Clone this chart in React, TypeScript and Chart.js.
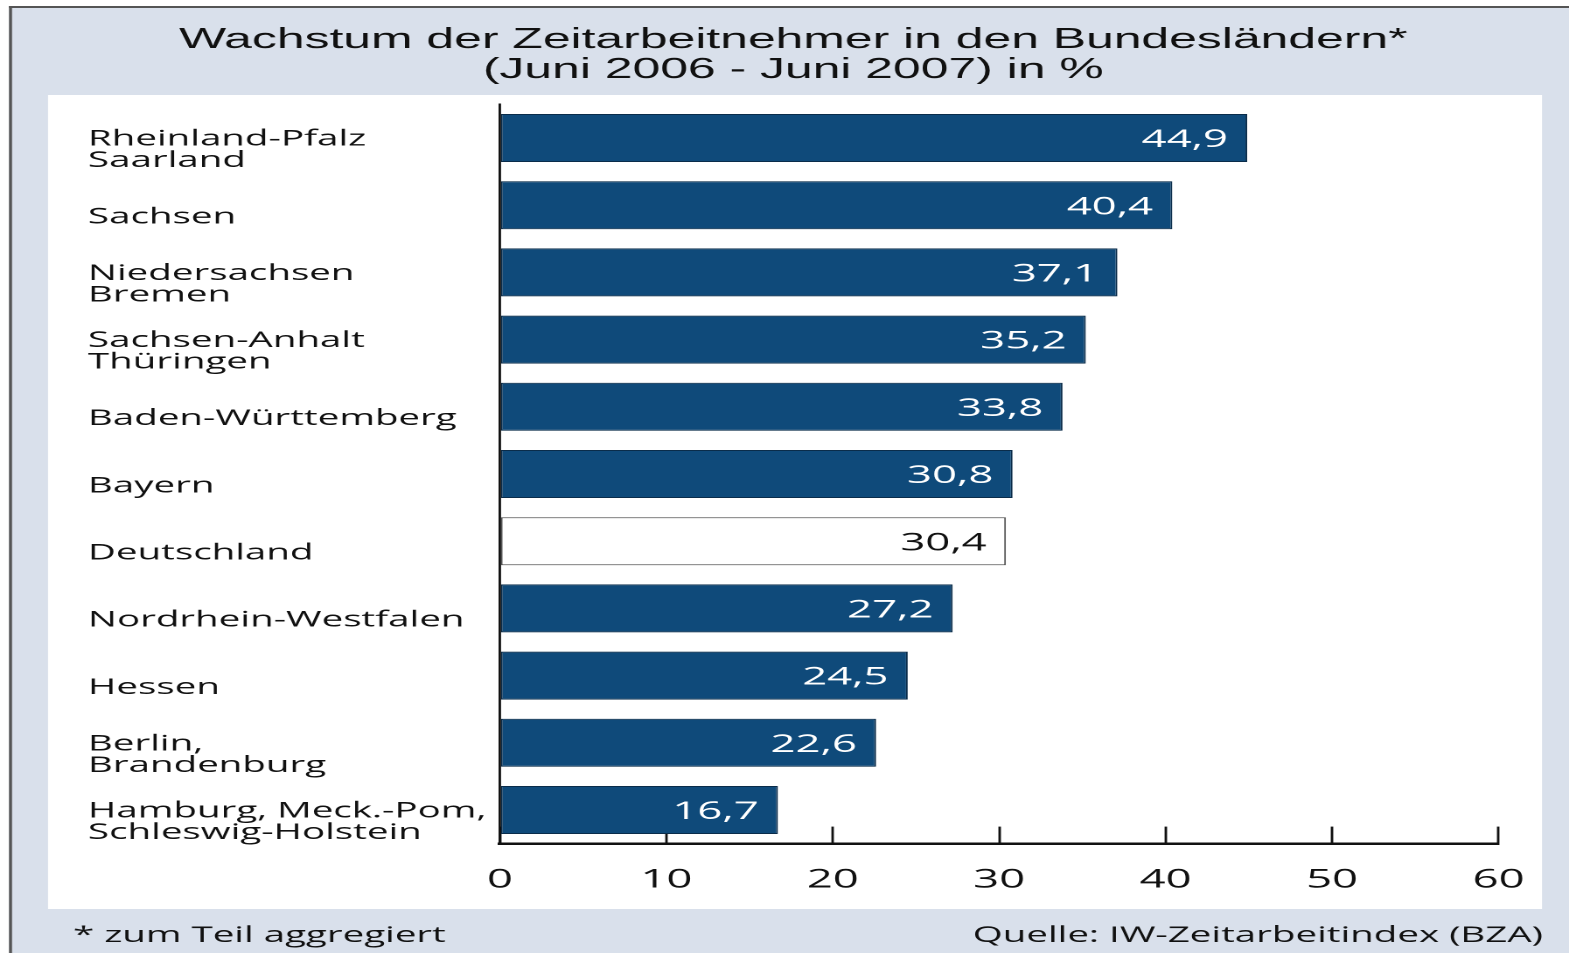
import React, { useEffect, useRef } from "react";
import { Chart, registerables } from "chart.js";

Chart.register(...registerables);

// ---- data ----
const categories: string[] = [
  "Rheinland-Pfalz\nSaarland",
  "Sachsen",
  "Niedersachsen\nBremen",
  "Sachsen-Anhalt\nThüringen",
  "Baden-Württemberg",
  "Bayern",
  "Deutschland",
  "Nordrhein-Westfalen",
  "Hessen",
  "Berlin,\nBrandenburg",
  "Hamburg, Meck.-Pom,\nSchleswig-Holstein",
];
const values: number[] = [44.9, 40.4, 37.1, 35.2, 33.8, 30.8, 30.4, 27.2, 24.5, 22.6, 16.7];
const xTicks: number[] = [0, 10, 20, 30, 40, 50, 60];
const titleLines: string[] = [
  "Wachstum der Zeitarbeitnehmer in den Bundesländern*",
  "(Juni 2006 - Juni 2007) in %",
];
const footnote = "* zum Teil aggregiert";
const source = "Quelle: IW-Zeitarbeitindex (BZA)";
const highlightCategory = "Deutschland";

// ---- geometry / styles ----
const PAGE_W = 1569;
const H = 953;
const W = 897; // internal chart width, stretched horizontally to PAGE_W
const S = PAGE_W / W;
const px = (x: number) => x / S; // page x -> chart x

const BAR = "#0f4a7a";
const BAR_EDGE = "#0a2c4a";
const INK = "#111111";
const FRAME_BG = "#d9e0eb";
const FONT = "'Open Sans', 'DejaVu Sans', sans-serif";

const isHighlight = (i: number) => categories[i] === highlightCategory;
const fmt = (v: number) => v.toFixed(1).replace(".", ",");

const backgroundPlugin = {
  id: "frameBackground",
  beforeDraw(chart: any) {
    const { ctx, width, height } = chart;
    ctx.save();
    ctx.fillStyle = "#ffffff";
    ctx.fillRect(0, 0, width, height);
    ctx.fillStyle = FRAME_BG;
    ctx.fillRect(px(9), 6, width, height);
    ctx.fillStyle = "#555555";
    ctx.fillRect(px(9), 6, width, 2);
    ctx.fillRect(px(9), 6, px(3), height);
    ctx.fillStyle = "#ffffff";
    ctx.fillRect(px(48), 95, px(1542 - 48), 909 - 95);
    ctx.restore();
  },
};

const valueLabelPlugin = {
  id: "valueLabels",
  afterDatasetsDraw(chart: any) {
    const { ctx } = chart;
    const meta = chart.getDatasetMeta(0);
    ctx.save();
    ctx.font = `25px ${FONT}`;
    ctx.textAlign = "right";
    ctx.textBaseline = "middle";
    meta.data.forEach((el: any, i: number) => {
      ctx.fillStyle = isHighlight(i) ? INK : "#ffffff";
      ctx.fillText(fmt(values[i]), el.x - 11, el.y + 2);
    });
    ctx.restore();
  },
};

const footerPlugin = {
  id: "footer",
  afterDraw(chart: any) {
    const { ctx } = chart;
    ctx.save();
    ctx.font = `22px ${FONT}`;
    ctx.fillStyle = INK;
    ctx.textBaseline = "alphabetic";
    ctx.textAlign = "left";
    ctx.fillText(footnote, px(73), 942);
    ctx.textAlign = "right";
    ctx.fillText(source, px(1543), 942);
    ctx.restore();
  },
};

export default function App() {
  const ref = useRef<HTMLCanvasElement>(null);

  useEffect(() => {
    const canvas = ref.current;
    if (!canvas) return;
    Chart.defaults.font.family = FONT;
    const chart = new Chart(canvas, {
      type: "bar",
      data: {
        labels: categories.map((c) => c.split("\n")),
        datasets: [
          {
            data: values,
            backgroundColor: (c: any) => (isHighlight(c.dataIndex) ? "#ffffff" : BAR),
            borderColor: (c: any) => (isHighlight(c.dataIndex) ? "#555555" : BAR_EDGE),
            borderWidth: 1,
            borderSkipped: false,
            categoryPercentage: 1,
            barPercentage: 0.714,
          },
        ],
      },
      options: {
        indexAxis: "y",
        animation: false,
        responsive: true,
        maintainAspectRatio: false,
        devicePixelRatio: 2,
        layout: { padding: { left: px(88), right: W - px(1498.5), top: 0, bottom: 0 } },
        plugins: {
          legend: { display: false },
          tooltip: { enabled: false },
          title: {
            display: true,
            text: titleLines,
            color: INK,
            font: { family: "'Liberation Sans', Arial, sans-serif", size: 28.5, weight: "normal", lineHeight: "30px" },
            padding: { top: 25, bottom: 19.4 },
          },
        },
        scales: {
          x: {
            position: "bottom",
            min: xTicks[0],
            max: xTicks[xTicks.length - 1],
            ticks: {
              stepSize: xTicks[1] - xTicks[0],
              color: INK,
              font: { family: FONT, size: 26 },
              padding: 37.8,
            },
            grid: {
              drawOnChartArea: false,
              drawTicks: true,
              tickLength: -17,
              tickWidth: px(2.5),
              tickColor: INK,
            },
            border: { display: true, color: INK, width: 2.5 },
            afterFit: (s: any) => {
              s.height = H - 843.6;
              s.paddingLeft = 0;
              s.paddingRight = 0;
            },
          },
          y: {
            ticks: {
              crossAlign: "far",
              labelOffset: 12,
              color: INK,
              autoSkip: false,
              font: { family: FONT, size: 22, lineHeight: "21.5px" },
            },
            grid: { drawOnChartArea: false, drawTicks: false },
            border: { display: true, color: INK, width: px(2.5), z: 1 },
            afterFit: (s: any) => {
              s.width = px(500) - px(88);
              s.paddingTop = 0;
              s.paddingBottom = 0;
            },
          },
        },
      } as any,
      plugins: [backgroundPlugin, valueLabelPlugin, footerPlugin],
    });
    return () => chart.destroy();
  }, []);

  return (
    <div style={{ position: "fixed", left: 0, top: 0, width: PAGE_W, height: H, overflow: "hidden", background: "#fff" }}>
      <div
        style={{
          position: "absolute",
          left: 0,
          top: 0,
          width: W,
          height: H,
          transform: `scaleX(${S})`,
          transformOrigin: "0 0",
        }}
      >
        <canvas ref={ref} />
      </div>
    </div>
  );
}
